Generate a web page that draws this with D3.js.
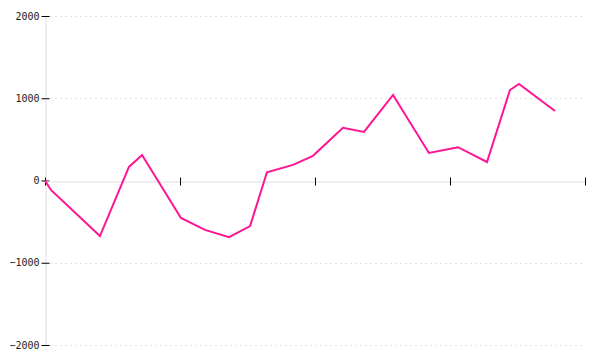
<!DOCTYPE html>
<html>
<head>
<meta charset="utf-8">
<script src="https://cdn.jsdelivr.net/npm/d3@7"></script>
<style>
  html, body { margin: 0; padding: 0; background: #fff; }
  svg { display: block; }
</style>
</head>
<body>
<svg id="chart" width="600" height="360"></svg>
<script>
const xValues = [0, 0.44, 4.07, 6.22, 7.19, 10.07, 11.85, 13.63, 15.19, 16.44, 18.37, 19.85, 22.07, 23.63, 25.78, 28.44, 30.59, 32.74, 34.44, 35.11, 37.78];
const yValues = [0, -115, -675, 165, 310, -455, -600, -690, -555, 100, 190, 300, 640, 590, 1040, 335, 405, 225, 1100, 1175, 845];
const xTicks = [0, 10, 20, 30, 40];
const yTicks = [-2000, -1000, 0, 1000, 2000];

const svg = d3.select("#chart");
const x = d3.scaleLinear().domain([0, 40]).range([45, 585]);
const y = d3.scaleLinear().domain([-2000, 2000]).range([345, 16]);

// gridlines
svg.append("g").selectAll("line")
  .data(yTicks.filter(d => d !== 0))
  .join("line")
  .attr("x1", 50).attr("x2", 585)
  .attr("y1", d => Math.round(y(d)) + 0.5).attr("y2", d => Math.round(y(d)) + 0.5)
  .attr("stroke", "#e2e2e2").attr("stroke-width", 1)
  .attr("stroke-dasharray", "2,3");

// y axis
const yAxis = svg.append("g")
  .attr("transform", `translate(${x(0) + 0.5},0)`)
  .call(d3.axisLeft(y).tickValues(yTicks).tickFormat(d3.format("d")).tickSize(4).tickSizeOuter(0).tickPadding(2));
yAxis.select(".domain").attr("stroke", "#dddddd");
yAxis.selectAll(".tick line").attr("x1", -4).attr("x2", 4).attr("stroke", "#000");
yAxis.selectAll(".tick text")
  .attr("font-family", "DejaVu Sans Mono, monospace")
  .attr("font-size", 10).attr("fill", "#222").attr("x", -6);

// x axis at y=0
const xAxis = svg.append("g")
  .attr("transform", `translate(0,${Math.round(y(0)) + 0.5})`)
  .call(d3.axisBottom(x).tickValues(xTicks).tickSize(4).tickSizeOuter(0).tickFormat(""));
xAxis.select(".domain").attr("stroke", "#dddddd");
xAxis.selectAll(".tick line").attr("y1", -4).attr("y2", 4).attr("stroke", "#000");

// line
const data = xValues.map((d, i) => ({ x: d, y: yValues[i] }));
svg.append("path")
  .datum(data)
  .attr("fill", "none")
  .attr("stroke", "#ff1493")
  .attr("stroke-width", 2)
  .attr("stroke-linejoin", "miter")
  .attr("d", d3.line().x(d => x(d.x)).y(d => y(d.y)));
</script>
</body>
</html>
